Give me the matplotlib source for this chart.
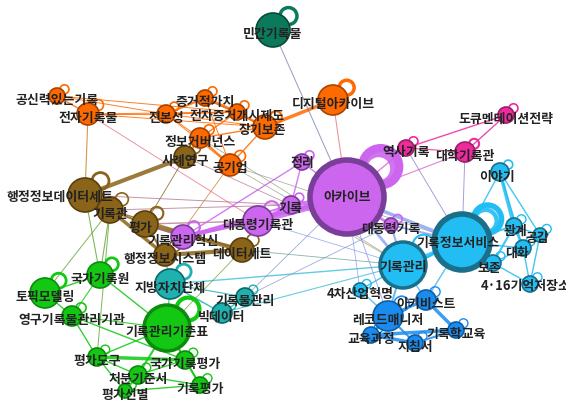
import numpy as np
import matplotlib
matplotlib.use("Agg")
import matplotlib.pyplot as plt
from matplotlib.patches import Circle
from matplotlib import colors as mcolors

plt.rcParams['font.family'] = ['Noto Sans CJK KR', 'DejaVu Sans']

# ---------------- data ----------------
names = ["민간기록물", "디지털아카이브", "공신력있는기록", "전자기록물", "진본성", "증거적가치",
         "전자증거개시제도", "장기보존", "정보거버넌스", "공기업",
         "사례연구", "행정정보데이터세트", "기록관", "평가", "행정정보시스템", "데이터세트",
         "아카이브", "정리", "기록", "대통령기록관", "기록관리혁신", "대통령기록",
         "역사기록", "대학기록관", "도큐멘테이션전략",
         "이야기", "기록정보서비스", "기록관리", "관계", "공감", "대화", "보존", "4·16기억저장소", "4차산업혁명",
         "아키비스트", "레코드매니저", "기록학교육", "교육과정", "지침서",
         "지방자치단체", "기록물관리", "빅데이터",
         "국가기록원", "토픽모델링", "영구기록물관리기관", "기록관리기준표", "평가도구", "국가기록평가",
         "처분기준서", "기록평가", "평가선별"]
groups = ["forest", "orange", "orange", "orange", "orange", "orange",
          "orange", "orange", "orange", "orange",
          "brown", "brown", "brown", "brown", "brown", "brown",
          "purple", "purple", "purple", "purple", "purple", "purple",
          "pink", "pink", "pink",
          "sky", "sky", "sky", "sky", "sky", "sky", "sky", "sky", "sky",
          "blue", "blue", "blue", "blue", "blue",
          "teal", "teal", "teal",
          "green", "green", "green", "green", "green", "green",
          "green", "green", "green"]
# layout coordinates
node_x = [273, 333, 57, 88, 166, 205, 237, 265, 200, 230,
          185, 85, 110, 145, 165, 242,
          347, 302, 291, 258, 183, 391,
          406, 465, 506,
          500, 462, 403, 514, 540, 523, 493, 530, 360,
          426, 388, 456, 371, 415,
          170, 245, 222,
          100, 45, 72, 167, 97, 185, 138, 200, 125]
node_y = [30, 100, 96, 114, 114, 98, 112, 127, 138, 165,
          157, 195, 210, 224, 255, 250,
          197, 162, 205, 221, 237, 225,
          148, 152, 115,
          172, 242, 265, 226, 235, 248, 263, 284, 290,
          300, 316, 330, 335, 343,
          284, 297, 313,
          275, 293, 316, 328, 357, 360, 375, 385, 391]
node_size = [17, 15, 8, 11, 9, 8, 8, 12, 10, 11,
             11, 17, 13, 13, 11, 12,
             37, 8, 9, 15, 12, 7,
             8, 10, 8,
             9, 28, 23, 8, 7, 8, 8, 8, 7,
             10, 15, 8, 8, 8,
             15, 9, 10,
             13, 15, 10, 23, 9, 9, 9, 8, 7]
loop_w = [2.5, 2.5, 1.2, 1.2, 1.2, 1.2, 1.2, 1.5, 1.2, 1.2,
          1.2, 2.0, 1.2, 1.5, 1.2, 1.2,
          6.0, 1.2, 1.2, 1.5, 1.5, 1.2,
          1.2, 1.5, 1.2,
          1.2, 4.0, 1.5, 1.0, 1.0, 1.0, 1.0, 1.0, 1.0,
          1.0, 1.2, 1.0, 1.0, 1.0,
          2.0, 1.0, 1.0,
          2.0, 2.0, 1.2, 3.0, 1.0, 1.0, 1.0, 1.0, 1.0]

edge_src = ["공신력있는기록", "공신력있는기록", "공신력있는기록", "전자기록물", "전자기록물", "전자기록물",
            "진본성", "진본성", "증거적가치", "증거적가치", "전자증거개시제도", "진본성",
            "정보거버넌스", "정보거버넌스", "정보거버넌스", "공기업", "공기업", "정보거버넌스",
            "장기보존", "공기업",
            "전자기록물", "전자기록물", "사례연구", "사례연구", "민간기록물", "디지털아카이브",
            "공기업", "정보거버넌스", "공기업", "공기업", "사례연구", "사례연구", "행정정보데이터세트",
            "행정정보데이터세트", "기록관", "기록관", "평가", "평가", "행정정보시스템", "기록관",
            "평가", "평가", "기록관",
            "아카이브", "아카이브", "아카이브", "아카이브", "아카이브", "기록", "대통령기록관",
            "기록관리혁신", "정리", "정리",
            "아카이브", "역사기록", "역사기록", "대학기록관", "아카이브", "대학기록관", "역사기록",
            "아카이브", "아카이브", "대통령기록", "대통령기록", "기록정보서비스", "기록정보서비스",
            "기록정보서비스", "기록정보서비스", "기록정보서비스", "이야기", "이야기", "이야기", "관계",
            "관계", "관계", "대화", "보존", "공감", "보존", "기록관리", "기록관리", "기록관리",
            "기록정보서비스", "4차산업혁명",
            "아키비스트", "아키비스트", "레코드매니저", "레코드매니저", "교육과정", "교육과정", "지침서",
            "지방자치단체", "지방자치단체", "지방자치단체", "기록물관리", "빅데이터", "지방자치단체",
            "지방자치단체",
            "기록관리기준표", "기록관리기준표", "기록관리기준표", "기록관리기준표", "기록관리기준표",
            "기록관리기준표", "평가도구", "평가도구", "평가도구", "처분기준서", "처분기준서", "처분기준서",
            "국가기록평가", "평가선별", "토픽모델링", "토픽모델링", "영구기록물관리기관",
            "영구기록물관리기관", "국가기록원", "국가기록원", "국가기록원", "토픽모델링", "평가도구",
            "기록관리기준표",
            "기록물관리", "데이터세트", "아카이브", "아카이브", "대통령기록관", "기록물관리"]
edge_dst = ["전자기록물", "진본성", "전자증거개시제도", "진본성", "전자증거개시제도", "장기보존",
            "증거적가치", "전자증거개시제도", "전자증거개시제도", "장기보존", "장기보존", "장기보존",
            "전자증거개시제도", "진본성", "공기업", "장기보존", "증거적가치", "장기보존",
            "디지털아카이브", "진본성",
            "행정정보데이터세트", "대통령기록관", "정보거버넌스", "행정정보데이터세트", "아카이브", "아카이브",
            "기록관리", "기록관리", "기록정보서비스", "행정정보시스템", "평가", "기록", "기록",
            "기록관", "평가", "행정정보시스템", "데이터세트", "행정정보시스템", "데이터세트", "데이터세트",
            "기록관리혁신", "대통령기록관", "기록",
            "기록", "대통령기록관", "기록관리혁신", "정리", "대통령기록", "대통령기록관", "기록관리혁신",
            "기록", "기록", "기록관리혁신",
            "역사기록", "대학기록관", "도큐멘테이션전략", "도큐멘테이션전략", "대학기록관", "기록정보서비스",
            "기록정보서비스",
            "기록정보서비스", "기록관리", "기록관리", "기록정보서비스", "기록관리", "이야기",
            "관계", "보존", "대화", "관계", "대화", "공감", "공감",
            "대화", "보존", "4·16기억저장소", "4·16기억저장소", "4·16기억저장소", "대화", "4차산업혁명",
            "아키비스트", "레코드매니저", "아키비스트", "레코드매니저",
            "레코드매니저", "기록학교육", "교육과정", "지침서", "지침서", "기록학교육", "기록학교육",
            "기록물관리", "빅데이터", "기록관리", "빅데이터", "기록관리", "기록관리기준표",
            "행정정보시스템",
            "국가기록원", "영구기록물관리기관", "평가도구", "국가기록평가", "처분기준서",
            "기록평가", "국가기록평가", "처분기준서", "평가선별", "평가선별", "기록평가", "국가기록평가",
            "기록평가", "기록평가", "국가기록원", "영구기록물관리기관", "평가도구",
            "국가기록평가", "영구기록물관리기관", "기록관", "행정정보데이터세트", "기록관", "기록관",
            "데이터세트",
            "아카이브", "기록관리", "4차산업혁명", "레코드매니저", "기록관리", "대통령기록"]
edge_w = [1.0, 0.7, 0.7, 0.7, 0.7, 0.7,
          1.5, 1.0, 2.0, 1.0, 1.5, 0.7,
          1.0, 0.7, 1.5, 1.0, 0.7, 1.0,
          2.5, 0.7,
          0.8, 0.7, 2.0, 3.0, 0.7, 0.8,
          0.6, 0.6, 0.6, 0.6, 0.6, 0.6, 0.7,
          1.5, 1.5, 2.5, 3.0, 1.5, 3.0, 1.0,
          1.2, 1.0, 0.7,
          3.0, 4.5, 3.0, 1.0, 2.0, 2.0, 2.0,
          1.5, 1.0, 1.0,
          1.0, 0.8, 1.0, 1.0, 0.8, 0.7, 0.7,
          2.5, 2.0, 1.5, 1.5, 3.0, 1.0,
          1.5, 1.0, 1.0, 2.5, 1.0, 1.0, 1.0,
          1.5, 1.5, 1.0, 1.0, 1.0, 1.0, 1.0, 1.0, 1.5,
          1.0, 1.0,
          2.0, 2.5, 2.0, 1.5, 2.5, 2.5, 1.5,
          0.8, 1.0, 1.0, 1.0, 0.8, 1.0, 0.8,
          1.0, 0.8, 1.0, 1.5, 1.5,
          1.0, 2.5, 1.0, 1.0, 1.5, 1.0, 1.0,
          1.5, 1.0, 1.0, 1.0, 1.0,
          1.0, 0.8, 0.8, 0.8, 0.7, 0.7,
          0.6,
          0.6, 0.6, 0.6, 0.6, 0.6, 0.6]

# ---------------- styles ----------------
fill = {"forest": "#0b7a5c", "orange": "#ff6a00", "brown": "#8a6418", "purple": "#cc66ee",
        "pink": "#ee2a9e", "sky": "#22bdf3", "blue": "#1a8cf0", "teal": "#1fb0b0", "green": "#12c812"}
stroke = {"forest": "#0a4a38", "orange": "#a84300", "brown": "#5a3e0c", "purple": "#7a3d99",
          "pink": "#992266", "sky": "#1a6f8a", "blue": "#0f5ea0", "teal": "#0f6868", "green": "#0e8a0e"}
label_off = {"행정정보데이터세트": (-25, 2), "평가": (-5, 4), "대화": (-6, 5), "보존": (-4, 5),
             "4·16기억저장소": (-4, 2), "장기보존": (-3, 3), "공기업": (0, 3), "기록": (-1, 3),
             "아카이브": (0, 0), "기록관리": (0, 2), "기록정보서비스": (-4, 1), "관계": (1, 5),
             "공감": (-3, 3), "이야기": (-3, 5), "정리": (0, 1)}

idx = {n: i for i, n in enumerate(names)}

fig = plt.figure(figsize=(5.66, 4.03), dpi=100)
ax = fig.add_axes([0, 0, 1, 1])
ax.set_xlim(0, 566)
ax.set_ylim(403, 0)
ax.axis("off")


def blend(c1, c2):
    a = np.array(mcolors.to_rgb(c1))
    b = np.array(mcolors.to_rgb(c2))
    return tuple((a + b) / 2)

# edges
for s, d, w in zip(edge_src, edge_dst, edge_w):
    i, j = idx[s], idx[d]
    gi, gj = groups[i], groups[j]
    if gi == gj:
        col, al = fill[gi], 0.85
    else:
        col, al = blend(fill[gi], fill[gj]), 0.7
    ax.plot([node_x[i], node_x[j]], [node_y[i], node_y[j]], color=col, lw=w, alpha=al,
            solid_capstyle="round", zorder=1)

# self loops
for i, n in enumerate(names):
    r = node_size[i]
    lr = max(4.5, 0.5 * r)
    ang = np.deg2rad(42)
    d = r + 0.45 * lr
    cx = node_x[i] + d * np.cos(ang)
    cy = node_y[i] - d * np.sin(ang)
    ax.add_patch(Circle((cx, cy), lr, fill=False, ec=fill[groups[i]], lw=loop_w[i], zorder=2))
    if n in ("아카이브", "기록정보서비스"):
        ax.add_patch(Circle((cx - 2, cy + 2), lr * 0.8, fill=False, ec=fill[groups[i]],
                            lw=loop_w[i] * 0.8, alpha=0.9, zorder=2))

# nodes
for i, n in enumerate(names):
    r = node_size[i]
    lw = 4 if r > 25 else (2.5 if r > 20 else 1.2)
    ax.add_patch(Circle((node_x[i], node_y[i]), r, fc=fill[groups[i]], ec=stroke[groups[i]],
                        lw=lw, zorder=3))

# labels
for i, n in enumerate(names):
    dx, dy = label_off.get(n, (0, 4))
    ax.text(node_x[i] + dx, node_y[i] + dy, n, ha="center", va="center", fontsize=9.3,
            fontweight="bold", color="#222222", zorder=4)

fig.savefig("out.png", dpi=100, facecolor="white")
